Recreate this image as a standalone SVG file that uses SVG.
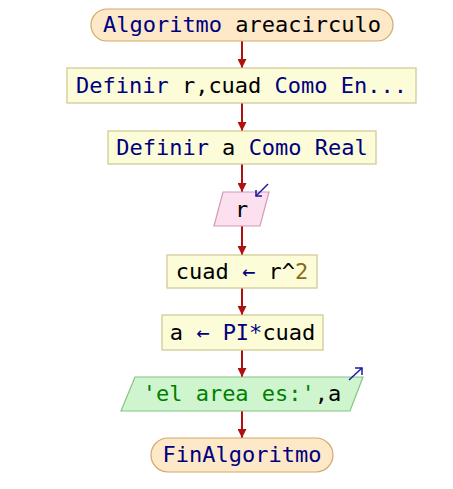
<svg xmlns="http://www.w3.org/2000/svg" width="453" height="489" viewBox="0 0 453 489">
  <style>
    text { font-family: "DejaVu Sans Mono", "Liberation Mono", monospace; font-size: 22px; text-anchor: middle; fill: #000000; }
    .kw { fill: #00007f; }
    .num { fill: #8b6a14; }
    .str { fill: #008000; }
    .term { fill: #fde9c8; stroke: #d2a868; stroke-width: 1.2; }
    .proc { fill: #fdfcd8; stroke: #cdc690; stroke-width: 1.2; }
    .in { fill: #fce0ef; stroke: #d49ab8; stroke-width: 1.2; }
    .out { fill: #cff5cf; stroke: #86c486; stroke-width: 1.2; }
    .flow { stroke: #b01010; stroke-width: 2; fill: none; marker-end: url(#head); }
    .io { stroke: #1a1aa0; stroke-width: 1.5; fill: none; }
  </style>
  <defs>
    <marker id="head" viewBox="0 0 10 10" refX="10" refY="5" markerWidth="4.5" markerHeight="4.5" orient="auto" markerUnits="strokeWidth">
      <path d="M0,0 L10,5 L0,10 Z" fill="#b01010"/>
    </marker>
  </defs>
  <rect width="453" height="489" fill="#ffffff"/>

  <g id="connectors">
    <line class="flow" x1="242" y1="41" x2="242" y2="68"/>
    <line class="flow" x1="242" y1="103" x2="242" y2="131"/>
    <line class="flow" x1="242" y1="164" x2="242" y2="192"/>
    <line class="flow" x1="242" y1="226" x2="242" y2="255"/>
    <line class="flow" x1="242" y1="288" x2="242" y2="315"/>
    <line class="flow" x1="242" y1="350" x2="242" y2="377"/>
    <line class="flow" x1="242" y1="411" x2="242" y2="438"/>
  </g>

  <g id="start">
    <rect class="term" x="91" y="9" width="302" height="32" rx="16" ry="16"/>
    <text x="242" y="32"><tspan class="kw">Algoritmo</tspan> areacirculo</text>
  </g>

  <g id="define-r-cuad">
    <rect class="proc" x="67" y="68" width="349" height="35"/>
    <text x="241.5" y="93"><tspan class="kw">Definir</tspan> r,cuad <tspan class="kw">Como En...</tspan></text>
  </g>

  <g id="define-a">
    <rect class="proc" x="108" y="131" width="268" height="33"/>
    <text x="242" y="155"><tspan class="kw">Definir</tspan> a <tspan class="kw">Como Real</tspan></text>
  </g>

  <g id="read-r">
    <polygon class="in" points="223,192 269,192 260,226 214,226"/>
    <text x="241.5" y="217">r</text>
    <line class="io" x1="268" y1="184" x2="256" y2="196"/>
    <polyline class="io" points="256,190 256,196 262,196"/>
  </g>

  <g id="assign-cuad">
    <rect class="proc" x="167" y="255" width="150" height="33"/>
    <text x="242" y="279">cuad <tspan class="kw">←</tspan> r^<tspan class="num">2</tspan></text>
  </g>

  <g id="assign-a">
    <rect class="proc" x="162" y="315" width="161" height="35"/>
    <text x="242.5" y="340">a <tspan class="kw">←</tspan> <tspan class="kw">PI*</tspan>cuad</text>
  </g>

  <g id="write-area">
    <polygon class="out" points="135,377 363,377 350,411 121,411"/>
    <text x="242" y="401"><tspan class="str">'el area es:'</tspan>,a</text>
    <line class="io" x1="349" y1="380" x2="362" y2="368"/>
    <polyline class="io" points="355,368 362,368 362,375"/>
  </g>

  <g id="end">
    <rect class="term" x="151" y="438" width="182" height="34" rx="17" ry="17"/>
    <text x="242" y="462" class="kw">FinAlgoritmo</text>
  </g>
</svg>
